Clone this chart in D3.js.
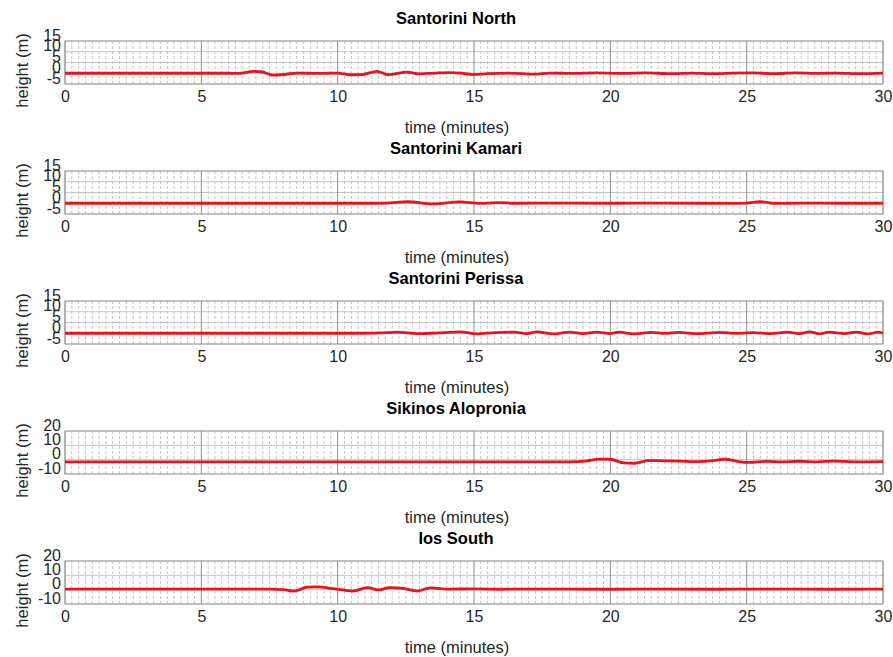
<!DOCTYPE html>
<html>
<head>
<meta charset="utf-8">
<script src="https://cdn.jsdelivr.net/npm/d3@7"></script>
<style>
  html, body { margin: 0; padding: 0; background: #fff; }
  svg { display: block; font-family: "Liberation Sans", Arial, sans-serif; }
</style>
</head>
<body>
<svg id="chart" width="893" height="657"></svg>
<script>
// Station names, in panel order
const stations = ["Santorini North", "Santorini Kamari", "Santorini Perissa", "Sikinos Alopronia", "Ios South"];

// Y tick values for each panel
const yTicksSmall = [-5, 0, 5, 10, 15];
const yTicksLarge = [-10, 0, 10, 20];
const xTicks = [0, 5, 10, 15, 20, 25, 30];

// Wave height records (time in minutes, height in metres)
const northT = [0, 6.0, 6.4, 6.9, 7.2, 7.65, 8.1, 8.5, 9.3, 10.0, 10.45, 10.9, 11.45, 11.85, 12.55, 13.0, 13.6, 14.1, 14.5, 14.95, 15.5, 16.3, 17.2, 17.8, 18.6, 19.5, 20.4, 21.3, 22.2, 23.0, 23.8, 24.5, 25.2, 26.0, 26.8, 27.5, 28.3, 29.2, 30];
const northH = [0, 0, -0.1, 0.9, 0.7, -0.9, -0.5, 0.1, -0.1, 0.1, -0.7, -0.6, 0.9, -0.7, 0.5, -0.3, 0.1, 0.3, 0.1, -0.6, -0.2, 0.1, -0.4, 0.1, -0.1, 0.2, -0.1, 0.2, -0.2, 0.1, -0.2, 0.1, 0.2, -0.2, 0.2, -0.1, 0.1, -0.2, 0.1];

const kamariT = [0, 11.0, 11.8, 12.55, 13.5, 14.5, 15.2, 15.85, 16.5, 18, 20, 22, 24.5, 25.0, 25.5, 26.1, 27, 28.5, 30];
const kamariH = [0, 0, 0.1, 0.7, -0.3, 0.6, -0.1, 0.3, 0, 0.1, 0, 0.1, -0.1, 0.1, 0.7, -0.1, 0.1, 0, 0];

const perissaT = [0, 10.8, 11.6, 12.2, 12.9, 13.6, 14.5, 15.1, 15.8, 16.5, 16.9, 17.3, 17.9, 18.5, 19.0, 19.5, 20.0, 20.3, 20.9, 21.5, 22.0, 22.5, 23.2, 24.0, 24.6, 25.2, 25.9, 26.5, 26.9, 27.3, 27.7, 28.0, 28.6, 29.0, 29.5, 29.8, 30];
const perissaH = [0, 0, 0.2, 0.5, -0.2, 0.1, 0.6, -0.3, 0.3, 0.5, -0.2, 0.6, -0.3, 0.5, -0.2, 0.5, -0.2, 0.5, -0.3, 0.4, -0.1, 0.4, -0.2, 0.4, -0.1, 0.3, -0.2, 0.5, -0.2, 0.6, -0.3, 0.5, -0.2, 0.5, -0.3, 0.5, 0];

const sikinosT = [0, 18.5, 19.1, 19.6, 20.0, 20.5, 20.9, 21.4, 21.9, 22.5, 23.2, 23.7, 24.2, 24.7, 25.1, 25.7, 26.3, 26.9, 27.6, 28.2, 29.0, 30];
const sikinosH = [-1.5, -1.5, -1.0, 0.4, 0.3, -2.3, -2.5, -0.6, -0.8, -1.0, -1.4, -0.9, 0.3, -1.3, -1.9, -1.2, -1.6, -1.1, -1.5, -1.0, -1.5, -1.3];

const iosT = [0, 7.5, 8.0, 8.4, 8.9, 9.25, 9.85, 10.55, 11.1, 11.5, 11.9, 12.4, 12.9, 13.4, 14.1, 15.0, 16, 18, 20, 22, 24, 26, 28, 30];
const iosH = [0.4, 0.4, 0.1, -1.0, 1.8, 1.9, 0.7, -1.0, 1.4, -0.2, 1.4, 0.9, -1.0, 1.2, 0.4, 0.5, 0.3, 0.4, 0.3, 0.4, 0.3, 0.4, 0.3, 0.4];

const series = [
  { t: northT, h: northH, yDomain: [-5, 15], yTicks: yTicksSmall },
  { t: kamariT, h: kamariH, yDomain: [-5, 15], yTicks: yTicksSmall },
  { t: perissaT, h: perissaH, yDomain: [-5, 15], yTicks: yTicksSmall },
  { t: sikinosT, h: sikinosH, yDomain: [-10, 20], yTicks: yTicksLarge },
  { t: iosT, h: iosH, yDomain: [-10, 20], yTicks: yTicksLarge }
];

const svg = d3.select("#chart");
const left = 65, right = 883, panelH = 43, firstTop = 41, step = 130;
const x = d3.scaleLinear().domain([0, 30]).range([left, right]);
const minorTicks = d3.range(0, 30.001, 0.25).filter(v => Math.abs(v % 5) > 1e-6);
const fontFam = "Liberation Sans, Arial, sans-serif";
const plain = d => String(d); // ASCII hyphen for negatives

series.forEach((s, i) => {
  const top = firstTop + i * step;
  const bottom = top + panelH;
  const y = d3.scaleLinear().domain(s.yDomain).range([bottom, top]);
  const g = svg.append("g");

  // minor dotted verticals
  g.append("g").selectAll("line").data(minorTicks).join("line")
    .attr("x1", d => x(d)).attr("x2", d => x(d))
    .attr("y1", top).attr("y2", bottom)
    .attr("stroke", "#c4c4c4").attr("stroke-width", 1)
    .attr("stroke-dasharray", "3,2");

  // major horizontals
  g.append("g").selectAll("line").data(s.yTicks).join("line")
    .attr("x1", left).attr("x2", right)
    .attr("y1", d => y(d)).attr("y2", d => y(d))
    .attr("stroke", "#c4c4c4").attr("stroke-width", 1);

  // major verticals
  g.append("g").selectAll("line").data(xTicks).join("line")
    .attr("x1", d => x(d)).attr("x2", d => x(d))
    .attr("y1", top).attr("y2", bottom)
    .attr("stroke", "#8c8c8c").attr("stroke-width", 1);

  // frame
  g.append("rect")
    .attr("x", left).attr("y", top)
    .attr("width", right - left).attr("height", panelH)
    .attr("fill", "none").attr("stroke", "#a0a0a0").attr("stroke-width", 1);

  // wave record
  const pts = s.t.map((t, k) => [t, s.h[k]]);
  const line = d3.line().x(d => x(d[0])).y(d => y(d[1])).curve(d3.curveMonotoneX);
  g.append("path").datum(pts)
    .attr("d", line)
    .attr("fill", "none").attr("stroke", "#e8141b").attr("stroke-width", 2.8);

  // x axis tick labels
  const xAxis = d3.axisBottom(x).tickValues(xTicks).tickSize(0).tickPadding(0).tickFormat(plain);
  const xa = g.append("g").attr("transform", `translate(0,${bottom})`).call(xAxis);
  xa.select(".domain").remove();
  xa.selectAll("text").attr("y", 7).attr("dy", "0.71em")
    .attr("font-size", 16).attr("fill", "#262626").attr("font-family", fontFam);

  // y axis tick labels
  const yAxis = d3.axisLeft(y).tickValues(s.yTicks).tickSize(0).tickPadding(4).tickFormat(plain);
  const ya = g.append("g").attr("transform", `translate(${left},0)`).call(yAxis);
  ya.select(".domain").remove();
  ya.selectAll("text").attr("dy", "-0.05em")
    .attr("font-size", 16).attr("fill", "#262626").attr("font-family", fontFam);

  // title
  g.append("text").attr("x", 456).attr("y", top - 17)
    .attr("text-anchor", "middle").attr("font-size", 16.5).attr("font-weight", "bold")
    .attr("fill", "#000").text(stations[i]);

  // axis labels
  g.append("text").attr("x", 457).attr("y", bottom + 49)
    .attr("text-anchor", "middle").attr("font-size", 16.5).attr("fill", "#262626")
    .text("time (minutes)");
  g.append("text")
    .attr("transform", `translate(28,${top + panelH / 2 + 8}) rotate(-90)`)
    .attr("text-anchor", "middle").attr("font-size", 16.5).attr("fill", "#262626")
    .text("height (m)");
});
</script>
</body>
</html>
